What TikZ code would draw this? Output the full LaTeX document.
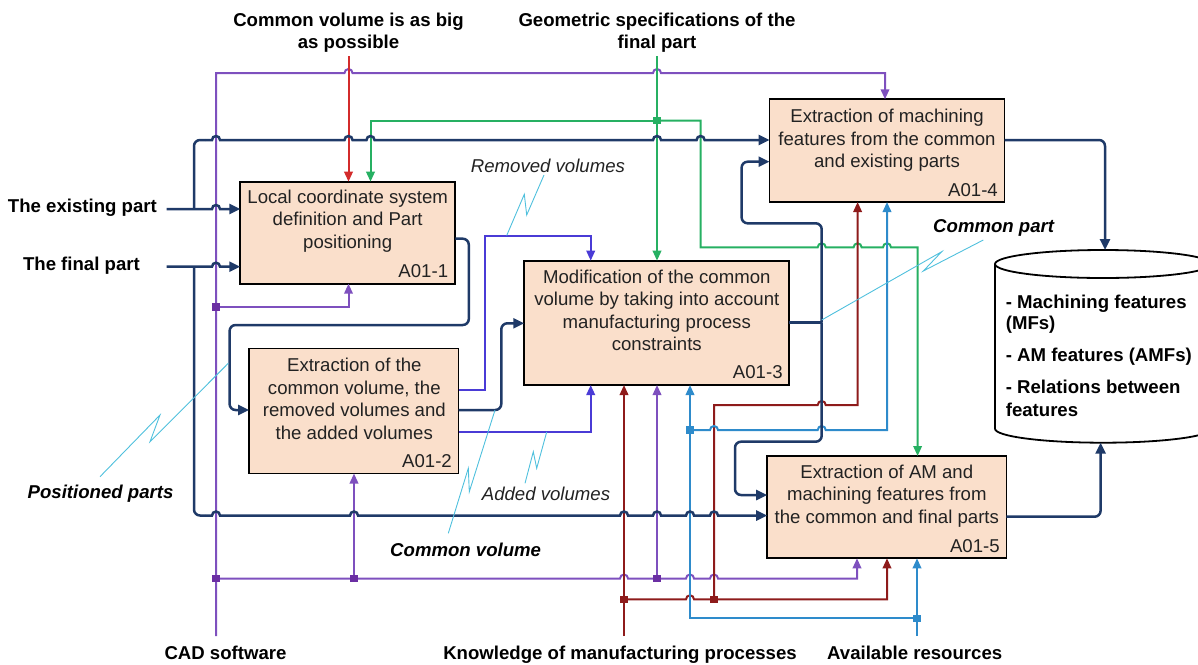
\documentclass[tikz,border=0pt]{standalone}
\usepackage{fontspec}
\setmainfont{Liberation Sans}
\usetikzlibrary{arrows.meta,calc}
\definecolor{navyc}{HTML}{1F3A68}
\definecolor{purc}{HTML}{7E50BE}
\definecolor{jpurc}{HTML}{6B2FA3}
\definecolor{redc}{HTML}{D32B2B}
\definecolor{dredc}{HTML}{8E1B1B}
\definecolor{grnc}{HTML}{26B062}
\definecolor{bluc}{HTML}{2E8BCB}
\definecolor{vioc}{HTML}{4A3BD6}
\definecolor{ptrc}{HTML}{4FC0DD}
\definecolor{boxfill}{HTML}{FADFCB}
\definecolor{txtc}{HTML}{222222}
\newcommand\fs{\fontsize{18.6}{22.5}\selectfont}
\begin{document}
\begin{tikzpicture}[x=1pt,y=-1pt,
 box/.style={draw=black,line width=1.8pt,fill=boxfill,inner sep=0pt,outer sep=0pt,anchor=north west},
 btxt/.style={align=center,font=\fs,text=txtc,inner sep=0pt},
 bid/.style={anchor=base east,font=\fs,text=txtc,inner sep=0pt},
 lbl/.style={font=\fs\bfseries,inner sep=0pt},
 ilbl/.style={font=\fs\itshape,text=txtc,inner sep=0pt},
 bilbl/.style={font=\fs\bfseries\itshape,inner sep=0pt},
 nav/.style={draw=navyc,line width=2.5pt},
 rnd/.style={rounded corners=6pt},
 tipn/.style={-{Triangle[length=11pt,width=10pt]}},
 tip/.style={-{Triangle[length=10pt,width=8.5pt]}},
 pur/.style={draw=purc,line width=2pt},
 redl/.style={draw=redc,line width=2pt},
 dredl/.style={draw=dredc,line width=2pt},
 grnl/.style={draw=grnc,line width=2pt},
 blul/.style={draw=bluc,line width=2pt},
 viol/.style={draw=vioc,line width=2pt},
 jsq/.style={rectangle,minimum size=7.5pt,inner sep=0pt,outer sep=0pt},
 ptr/.style={draw=ptrc,line width=0.9pt},
 dbl/.style={draw=black,line width=1.8pt}
]
\useasboundingbox (0,0) rectangle (1198,664);
\clip (0,0) rectangle (1198,664);

% ---------- boxes ----------
\node[box,minimum width=215pt,minimum height=102pt] (b1) at (240.3,181.7) {};
\node[box,minimum width=209.5pt,minimum height=125pt] (b2) at (249,348.5) {};
\node[box,minimum width=265pt,minimum height=124.3pt] (b3) at (524.3,260.7) {};
\node[box,minimum width=235pt,minimum height=102.7pt] (b4) at (769.5,99.3) {};
\node[box,minimum width=239.2pt,minimum height=102.3pt] (b5) at (767.2,456) {};

\node[btxt] (t1) at (347.7,221) {Local coordinate system\\definition and Part\\positioning};
\node[btxt] (t2) at (354.3,399) {Extraction of the\\common volume, the\\removed volumes and\\the added volumes};
\node[btxt] (t3) at (656.8,310.5) {Modification of the common\\volume by taking into account\\manufacturing process\\constraints};
\node[btxt] (t4) at (887,140.5) {Extraction of machining\\features from the common\\and existing parts};
\node[btxt] (t5) at (886.8,496) {Extraction of AM and\\machining features from\\the common and final parts};

\node[bid] (i1) at ($(b1.south east)+(-7,-6.5)$) {A01-1};
\node[bid] (i2) at ($(b2.south east)+(-6.5,-6.5)$) {A01-2};
\node[bid] (i3) at ($(b3.south east)+(-6.5,-6.5)$) {A01-3};
\node[bid] (i4) at ($(b4.south east)+(-6.5,-5.5)$) {A01-4};
\node[bid] (i5) at ($(b5.south east)+(-6.5,-5.5)$) {A01-5};

% ---------- database cylinder ----------
\draw[dbl,fill=white] (995,264) -- (995,428.7) arc[start angle=180,end angle=360,x radius=108pt,y radius=14pt] -- (1211,264);
\draw[dbl] (1103,264) ellipse [x radius=108pt,y radius=14pt];
\coordinate (dbtop) at (1105,250);
\coordinate (dbbot) at (1100.6,442.7);
\node[lbl,anchor=base west] (d1) at (1005.6,308.3) {- Machining features};
\node[lbl,anchor=base west] (d2) at (1005.6,329.5) {(MFs)};
\node[lbl,anchor=base west] (d3) at (1005.6,361.5) {- AM features (AMFs)};
\node[lbl,anchor=base west] (d4) at (1005.6,393) {- Relations between};
\node[lbl,anchor=base west] (d5) at (1005.6,416.3) {features};

% ---------- labels ----------
\node[lbl,align=center] (lcv) at (348.5,32.5) {Common volume is as big\\as possible};
\node[lbl,align=center] (lgs) at (657,32.5) {Geometric specifications of the\\final part};
\node[lbl,anchor=base east] (lex) at (157,212.5) {The existing part};
\node[lbl,anchor=base east] (lfp) at (140,270.3) {The final part};
\node[bilbl,anchor=base west] (lpp) at (27.5,498.8) {Positioned parts};
\node[ilbl,anchor=base west] (lrv) at (470.7,172) {Removed volumes};
\node[bilbl,anchor=base west] (lcp) at (933,232.5) {Common part};
\node[ilbl,anchor=base west] (lav) at (481.7,500.8) {Added volumes};
\node[bilbl,anchor=base west] (lcvo) at (390,556.5) {Common volume};
\node[lbl,anchor=base] (lcad) at (225.5,659) {CAD software};
\node[lbl,anchor=base] (lkn) at (620,659) {Knowledge of manufacturing processes};
\node[lbl,anchor=base] (lres) at (914.7,659) {Available resources};

% ---------- named coordinates ----------
\coordinate (cad) at (216,636);
\coordinate (kn) at (624,636);
\coordinate (av) at (917,636);
\coordinate (cv) at (348.5,56);
\coordinate (gs) at (657,56);
\coordinate (exin) at (166.5,209);
\coordinate (fin) at (166.5,266.7);
\coordinate (nb1) at (194,209);
\coordinate (nb2) at (194,266.7);
\coordinate (nj) at (821.7,322.7);
\coordinate (jp1) at (216,307);
\coordinate (jp2) at (216,578.5);
\coordinate (jp3) at (354,578.5);
\coordinate (jp4) at (657,578.5);
\coordinate (jg) at (657,120.7);
\coordinate (jk1) at (624,599.3);
\coordinate (jk2) at (714,599.3);
\coordinate (jb1) at (917,618.3);
\coordinate (jb2) at (690,430);

% ---------- purple (CAD software) ----------
\draw[pur,tip] (cad) -- (216,73) \foreach \h in {348.5,657}{-- ({\h-4},73) arc[start angle=180,end angle=0,radius=4pt]} -- (885,73) -- (b4.north -| 885,0);
\draw[pur,tip] (jp1) -- (348.5,307) -- (b1.south -| 348.5,0);
\draw[pur,tip] (jp2) \foreach \h in {624,690,714}{-- ({\h-4},578.5) arc[start angle=180,end angle=0,radius=4pt]} -- (857,578.5) -- (b5.south -| 857,0);
\draw[pur,tip] (jp3) -- (b2.south -| jp3);
\draw[pur,tip] (jp4) -- (b3.south -| jp4);

% ---------- red (common volume is as big as possible) ----------
\draw[redl,tip] (cv) -- (cv |- b1.north);

% ---------- green (geometric specifications) ----------
\draw[grnl,tip] (gs) -- (gs |- b3.north);
\draw[grnl,tip] (jg) -- (370.5,120.7) -- (b1.north -| 370.5,0);
\draw[grnl,tip] (jg) -- (700.6,120.7) -- (700.6,247.3) \foreach \h in {821.7,857.6,887}{-- ({\h-4},247.3) arc[start angle=180,end angle=0,radius=4pt]} -- (917.6,247.3) -- (b5.north -| 917.6,0);

% ---------- dark red (knowledge) ----------
\draw[dredl,tip] (kn) -- (kn |- b3.south);
\draw[dredl,tip] (jk1) \foreach \h in {690}{-- ({\h-4},599.3) arc[start angle=180,end angle=0,radius=4pt]} -- (887,599.3) -- (b5.south -| 887,0);
\draw[dredl,tip] (jk2) -- (714,405) \foreach \h in {821.7}{-- ({\h-4},405) arc[start angle=180,end angle=0,radius=4pt]} -- (857.6,405) -- (b4.south -| 857.6,0);

% ---------- blue (available resources) ----------
\draw[blul,tip] (av) -- (av |- b5.south);
\draw[blul,tip] (jb1) -- (690,618.3) -- (b3.south -| 690,0);
\draw[blul,tip] (jb2) \foreach \h in {714,821.7}{-- ({\h-4},430) arc[start angle=180,end angle=0,radius=4pt]} -- (887,430) -- (b4.south -| 887,0);

% ---------- violet (removed / added volumes) ----------
\draw[viol,tip] (b2.east |- 0,390) -- (485.3,390) -- (485.3,235.5) -- (590.7,235.5) -- (b3.north -| 590.7,0);
\draw[viol,tip] (b2.east |- 0,431.7) -- (590.7,431.7) -- (b3.south -| 590.7,0);

% ---------- navy ----------
\draw[nav,tipn] (exin) -- (212,209) arc[start angle=180,end angle=0,radius=4pt] -- (b1.west |- exin);
\draw[nav,rnd] (nb1) -- (194,140) -- (205,140);
\draw[nav,tipn] (205,140) \foreach \h in {216,348.5,370.5,657,700.6}{-- ({\h-4},140) arc[start angle=180,end angle=0,radius=4pt]} -- (b4.west |- 0,140);
\draw[nav,tipn] (fin) -- (212,266.7) arc[start angle=180,end angle=0,radius=4pt] -- (b1.west |- fin);
\draw[nav,rnd] (nb2) -- (194,515.5) -- (205,515.5);
\draw[nav,tipn] (205,515.5) \foreach \h in {216,354,624,657,690,714}{-- ({\h-4},515.5) arc[start angle=180,end angle=0,radius=4pt]} -- (b5.west |- 0,515.5);
\draw[nav,rnd,tipn] (b1.east |- 0,238.7) -- (468.8,238.7) -- (468.8,325) -- (229.6,325) -- (229.6,410) -- (b2.west |- 0,410);
\draw[nav,rnd,tipn] (b2.east |- 0,410) -- (501.3,410) -- (501.3,323.3) -- (b3.west |- 0,323.3);
\draw[nav] (b3.east |- nj) -- (nj);
\draw[nav,rnd,tipn] (nj) -- (821.7,223.3) -- (741.6,223.3) -- (741.6,161.7) -- (b4.west |- 0,161.7);
\draw[nav,rnd,tipn] (nj) -- (821.7,441.7) -- (735,441.7) -- (735,495) -- (b5.west |- 0,495);
\draw[nav,rnd,tipn] (b4.east |- 0,140) -- (1105,140) -- (dbtop);
\draw[nav,rnd,tipn] (b5.east |- 0,516.7) -- (1100.6,516.7) -- (dbbot);

% ---------- pointer squiggles ----------
\draw[ptr] (544,175) -- (526.7,215) -- (524.3,194.3) -- (506.7,235.5);
\draw[ptr] (100,476.7) -- (160,415) -- (150,441.7) -- (228.3,363.3);
\draw[ptr] (448.3,533.3) -- (468.3,468.3) -- (469.3,491.7) -- (495,410);
\draw[ptr] (525,483.3) -- (533.3,451.7) -- (536.7,468.3) -- (546.7,432);
\draw[ptr] (983.3,240) -- (923.3,271) -- (941.7,251.7) -- (821.7,320);

% ---------- junction squares ----------
\node[jsq,fill=jpurc] (q1) at (jp1) {};
\node[jsq,fill=jpurc] (q2) at (jp2) {};
\node[jsq,fill=jpurc] (q3) at (jp3) {};
\node[jsq,fill=jpurc] (q4) at (jp4) {};
\node[jsq,fill=grnc] (q5) at (jg) {};
\node[jsq,fill=dredc] (q6) at (jk1) {};
\node[jsq,fill=dredc] (q7) at (jk2) {};
\node[jsq,fill=bluc] (q8) at (jb1) {};
\node[jsq,fill=bluc] (q9) at (jb2) {};
\end{tikzpicture}
\end{document}
